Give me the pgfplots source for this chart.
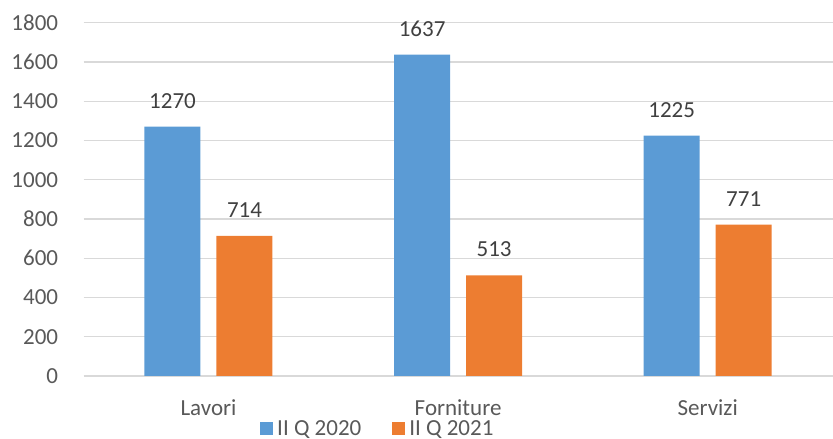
\documentclass[border=0pt]{standalone}
\usepackage{pgfplots}
\pgfplotsset{compat=1.18}
\usepackage{fontspec}
\setmainfont{Carlito}
\definecolor{cblue}{HTML}{5B9BD5}
\definecolor{corange}{HTML}{ED7D31}
\definecolor{gridc}{HTML}{D9D9D9}
\definecolor{txt}{HTML}{595959}
\definecolor{lbl}{HTML}{404040}
\begin{document}
\begin{tikzpicture}[x=1pt,y=1pt]
\path[use as bounding box] (-83.7,-63) rectangle (749.3,376);
\begin{axis}[
  at={(0,0)}, anchor=south west,
  scale only axis, width=748.8pt, height=353.3pt,
  ymin=0, ymax=1800, ytick={0,200,...,1800},
  xmin=-0.5, xmax=2.5, xtick={0,1,2}, xticklabels={Lavori,Forniture,Servizi},
  axis line style={draw=none},
  major tick length=0pt,
  ymajorgrids, major grid style={draw=gridc, line width=1.1pt},
  /pgf/number format/assume math mode=true,
  /pgf/number format/1000 sep={},
  tick label style={font=\fontsize{23}{27}\selectfont, text=txt},
  yticklabel style={anchor=east, inner sep=0pt, xshift=-25.4pt},
  xticklabel style={anchor=base, inner sep=0pt, yshift=-39pt},
  ybar=16pt, bar width=56pt,
  nodes near coords,
  nodes near coords style={font=\fontsize{23}{27}\selectfont, text=lbl, anchor=south, inner sep=0pt, yshift=18pt},
  legend columns=2,
  legend entries={II Q 2020, II Q 2021},
  legend style={at={(0.2355,-0.1506)}, anchor=west, draw=none, fill=none, inner sep=0pt,
    font=\fontsize{23}{27}\selectfont, text=txt,
    nodes={inner sep=0pt},
    /tikz/every odd column/.append style={column sep=4pt},
    /tikz/every even column/.append style={column sep=31pt}},
  legend image code/.code={\fill[#1] (0pt,-6.1pt) rectangle (13pt,6.9pt);},
]
\addplot[fill=cblue, draw=none] coordinates {(0,1270) (1,1637) (2,1225)};
\addplot[fill=corange, draw=none] coordinates {(0,714) (1,513) (2,771)};
\end{axis}
\end{tikzpicture}
\end{document}
